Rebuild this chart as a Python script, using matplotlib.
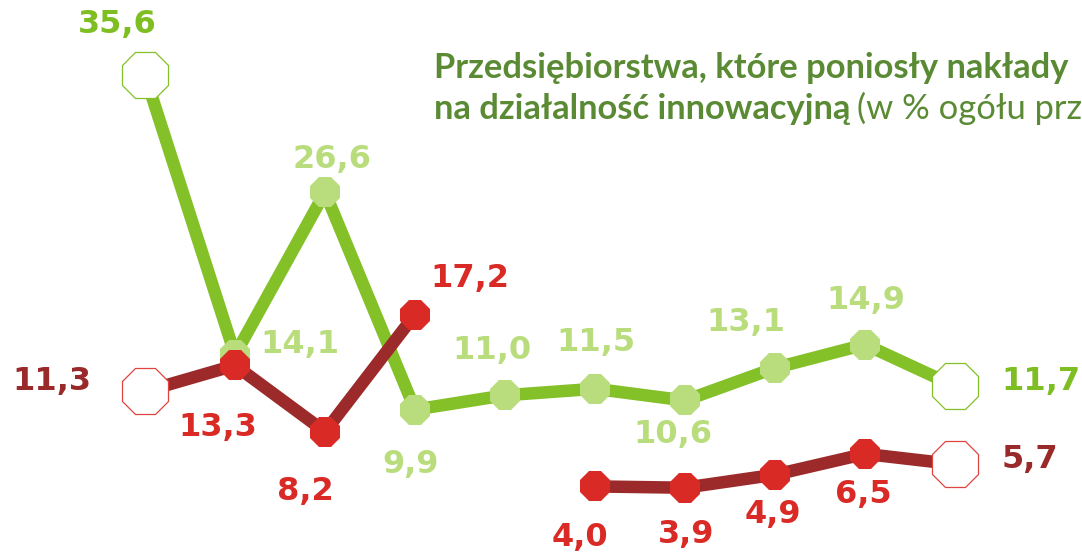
import numpy as np
import matplotlib
matplotlib.use("Agg")
import matplotlib.pyplot as plt

# Data (10 points per series, red has a gap at index 4)
green_values = [35.6, 14.1, 26.6, 9.9, 11.0, 11.5, 10.6, 13.1, 14.9, 11.7]
red_values = [11.3, 13.3, 8.2, 17.2, np.nan, 4.0, 3.9, 4.9, 6.5, 5.7]

# Label offsets in pixels (dx, dy) from each point
green_offsets = [(-28, 50), (65, 10), (7, 33), (-4, -55), (-13, 45),
                 (1, 46), (-12, -34), (-29, 45), (1, 44), (86, 5)]
red_offsets = [(-93, 10), (-17, -62), (-20, -60), (55, 36), None,
               (-15, -51), (1, -47), (-2, -40), (-2, -41), (75, 5)]

title_bold_1 = "Przedsiębiorstwa, które poniosły nakłady"
title_bold_2 = "na działalność innowacyjną"
title_regular_2 = "(w % ogółu prz"

# Colours
GREEN_LINE = "#84c128"
GREEN_LIGHT = "#b9dd7d"
GREEN_END = "#7fbe22"
RED_LINE = "#9c2a2a"
RED_MARK = "#d92a26"
RED_EDGE = "#e0443e"
RED_END = "#9a2a2a"
TITLE_GREEN = "#5a8a33"


def fmt(v):
    """Format value with a decimal comma."""
    return f"{v:.1f}".replace(".", ",")


def draw_series(ax, values, line_color, mark_color, edge_color, z):
    """Draw one line with filled middle markers and hollow end markers."""
    x = np.arange(len(values))
    ax.plot(x, values, color=line_color, lw=9, solid_capstyle="butt",
            zorder=z)
    mid = x[1:-1]
    ax.plot(mid, np.array(values)[1:-1], ls="none", marker="8", ms=23.5,
            mfc=mark_color, mec=mark_color, mew=0, zorder=z + 0.5)
    ends = [x[0], x[-1]]
    ax.plot(ends, [values[0], values[-1]], ls="none", marker="8", ms=36,
            mfc="white", mec=edge_color, mew=0.9, zorder=z + 0.6)


def label_series(ax, values, offsets, mid_color, end_color):
    """Put value labels next to each point."""
    n = len(values)
    for i, (v, off) in enumerate(zip(values, offsets)):
        if off is None or np.isnan(v):
            continue
        color = end_color if i in (0, n - 1) else mid_color
        ax.annotate(fmt(v), xy=(i, v), xytext=(off[0] * 0.72, off[1] * 0.72),
                    textcoords="offset points", ha="center", va="center",
                    fontsize=23, fontweight="bold", color=color,
                    family="DejaVu Sans", zorder=10)


def main():
    fig = plt.figure(figsize=(10.82, 5.52), dpi=100)
    ax = fig.add_axes([0, 0, 1, 1])
    ax.set_xlim(-145 / 90, (1082 - 145) / 90)
    ax.set_ylim((538.5 - 552) / 13.02, 538.5 / 13.02)
    ax.axis("off")

    draw_series(ax, green_values, GREEN_LINE, GREEN_LIGHT, GREEN_LINE, 2)
    draw_series(ax, red_values, RED_LINE, RED_MARK, RED_EDGE, 4)
    label_series(ax, green_values, green_offsets, GREEN_LIGHT, GREEN_END)
    label_series(ax, red_values, red_offsets, RED_MARK, RED_END)

    # Title, the reference cuts it off at the right edge
    tfont = dict(family=["Lato", "DejaVu Sans"], fontsize=24.8,
                 color=TITLE_GREEN)
    fig.text(434 / 1082, 1 - 78 / 552, title_bold_1, fontweight="bold",
             va="baseline", ha="left", **tfont)
    t2 = fig.text(434 / 1082, 1 - 119 / 552, title_bold_2, fontweight="bold",
                  va="baseline", ha="left", **tfont)
    renderer = fig.canvas.get_renderer()
    bb = t2.get_window_extent(renderer=renderer)
    fig.text((bb.x1 + 7) / 1082, 1 - 119 / 552, title_regular_2,
             fontweight="normal", va="baseline", ha="left", **tfont)

    fig.savefig("out.png", dpi=100)


if __name__ == "__main__":
    main()
